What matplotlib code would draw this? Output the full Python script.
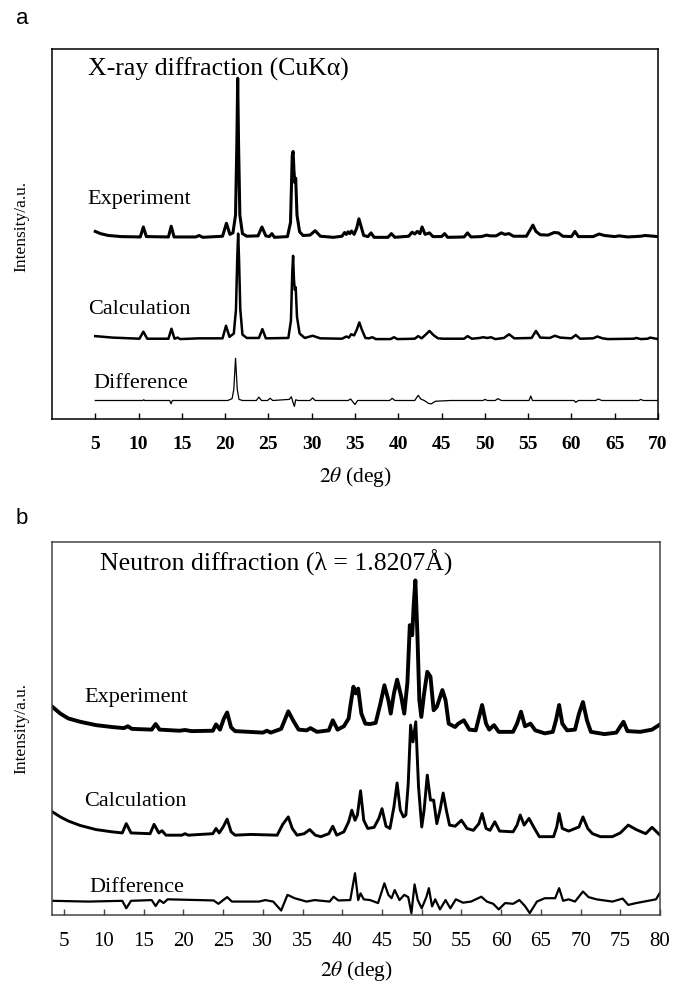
import matplotlib.pyplot as plt
import numpy as np

plt.rcParams['font.family'] = ['Liberation Serif', 'DejaVu Serif']
plt.rcParams['mathtext.fontset'] = 'stix'

# traced patterns: (2theta, intensity above the curve's own baseline, a.u.)
xrd_experiment = [
    (5.0, 1.6), (5.6, 1.0), (6.5, 0.5), (8.0, 0.2), (10.2, 0.1), (10.55, 2.8), (10.9, 0.2),
    (13.45, 0.1), (13.77, 3.0), (14.1, 0.1), (16.6, 0.1), (17.0, 0.5), (17.4, 0.0),
    (19.7, 0.3), (20.15, 3.8), (20.55, 0.8), (20.9, 1.2), (21.2, 6.0), (21.35, 25.0),
    (21.45, 43.0), (21.55, 25.0), (21.7, 6.0), (22.0, 1.0), (22.5, 0.3), (23.8, 0.4),
    (24.25, 2.8), (24.7, 0.4), (25.1, 0.2), (25.4, 1.0), (25.7, 0.0), (27.2, 0.2),
    (27.55, 4.0), (27.75, 22.0), (27.85, 23.2), (27.95, 18.0), (28.05, 14.8), (28.15, 16.0),
    (28.3, 6.0), (28.6, 1.5), (29.0, 0.5), (29.8, 0.6), (30.4, 1.8), (31.0, 0.3), (32.5, 0.0),
    (33.5, 0.3), (33.8, 1.3), (34.0, 0.8), (34.2, 1.5), (34.4, 1.0), (34.6, 1.7), (34.9, 0.8),
    (35.2, 2.5), (35.45, 5.0), (35.7, 3.0), (36.0, 0.5), (36.5, 0.2), (36.85, 1.2), (37.2, 0.0),
    (38.8, 0.0), (39.2, 1.0), (39.6, 0.0), (41.2, 0.3), (41.6, 1.4), (41.9, 0.9), (42.2, 1.6),
    (42.5, 1.0), (42.75, 2.8), (43.1, 0.8), (43.6, 1.2), (44.0, 0.2), (45.0, 0.2), (45.35, 1.0),
    (45.7, 0.0), (47.6, 0.1), (48.0, 1.2), (48.4, 0.1), (49.6, 0.2), (50.2, 0.6), (50.6, 0.4),
    (51.3, 0.4), (51.9, 1.2), (52.3, 0.8), (52.8, 1.0), (53.3, 0.3), (54.8, 0.3), (55.55, 3.3),
    (55.9, 1.6), (56.4, 0.7), (57.3, 0.6), (58.0, 1.3), (58.5, 1.2), (59.0, 0.3), (60.0, 0.2),
    (60.4, 1.6), (60.8, 0.2), (62.5, 0.2), (63.2, 0.9), (63.8, 0.5), (65.0, 0.2), (65.5, 0.4),
    (66.5, 0.1), (68.0, 0.3), (68.5, 0.5), (70.0, 0.2),
]
xrd_calculation = [
    (5.0, 0.8), (7.0, 0.4), (10.1, 0.1), (10.55, 2.0), (11.0, 0.1), (13.45, 0.1), (13.8, 2.8),
    (14.15, 0.1), (14.5, 0.4), (14.8, 0.0), (17.0, 0.2), (19.7, 0.2), (20.1, 3.6), (20.5, 0.6),
    (21.0, 1.5), (21.25, 8.0), (21.4, 22.0), (21.5, 28.5), (21.6, 22.0), (21.75, 8.0),
    (22.0, 1.2), (22.5, 0.3), (23.9, 0.3), (24.3, 2.7), (24.7, 0.2), (27.3, 0.3), (27.6, 5.0),
    (27.75, 18.0), (27.85, 22.5), (27.95, 16.0), (28.05, 13.3), (28.15, 14.0), (28.3, 6.0),
    (28.6, 1.5), (29.2, 0.3), (30.1, 0.9), (31.0, 0.2), (33.5, 0.1), (34.0, 0.7), (34.3, 0.4),
    (34.55, 1.3), (34.9, 1.0), (35.2, 2.5), (35.5, 4.5), (35.8, 2.5), (36.2, 0.3), (36.6, 0.2),
    (37.0, 0.5), (37.4, 0.0), (39.1, 0.0), (39.5, 0.5), (39.9, 0.0), (41.9, 0.1), (42.3, 0.8),
    (42.7, 0.2), (43.3, 1.5), (43.6, 2.2), (44.1, 1.0), (44.6, 0.2), (45.2, 0.1), (47.6, 0.1),
    (48.0, 0.8), (48.5, 0.1), (49.4, 0.3), (49.8, 0.5), (50.3, 0.3), (50.7, 0.5), (51.2, 0.0),
    (52.2, 0.3), (52.8, 1.3), (53.4, 0.2), (55.4, 0.3), (55.9, 2.2), (56.4, 0.4), (57.5, 0.3),
    (58.1, 0.9), (58.7, 0.4), (60.0, 0.2), (60.5, 1.1), (61.0, 0.1), (62.5, 0.2), (63.0, 0.7),
    (63.6, 0.2), (64.2, 0.0), (67.2, 0.1), (67.5, 0.3), (68.0, 0.0), (68.8, 0.1), (69.1, 0.4),
    (70.0, 0.0),
]
xrd_difference = [
    (5.0, 0.0), (10.5, 0.0), (10.6, 0.2), (10.7, 0.0), (13.6, 0.0), (13.75, -0.9), (13.9, 0.0),
    (20.3, 0.0), (20.8, 0.5), (21.0, 3.0), (21.2, 11.4), (21.4, 3.0), (21.6, 0.3), (22.0, 0.0),
    (23.6, 0.0), (23.9, 0.9), (24.2, 0.0), (24.9, 0.0), (25.2, 0.6), (25.5, 0.0), (27.4, 0.3),
    (27.65, 1.0), (27.85, -0.6), (28.0, -1.6), (28.15, 0.2), (28.4, 0.0), (29.8, 0.0),
    (30.1, 0.7), (30.4, 0.0), (34.2, 0.0), (34.5, 0.4), (34.8, -0.5), (35.0, -1.1), (35.3, 0.0),
    (39.0, 0.0), (39.3, 0.6), (39.6, 0.0), (41.9, 0.0), (42.3, 1.4), (42.6, 0.4), (43.0, 0.0),
    (43.5, -0.8), (43.8, -0.9), (44.3, -0.2), (46.0, 0.0), (49.8, 0.0), (50.0, 0.3), (50.3, 0.0),
    (51.2, 0.0), (51.5, 0.5), (51.9, 0.0), (55.1, 0.0), (55.3, 1.2), (55.5, 0.0), (60.3, 0.0),
    (60.5, -0.5), (60.8, 0.0), (62.8, 0.0), (63.1, 0.4), (63.5, 0.0), (67.8, 0.0), (68.0, 0.3),
    (68.3, 0.0), (70.0, 0.0),
]

nd_experiment = [
    (3.5, 6.7), (4.5, 4.9), (5.5, 3.6), (7.0, 2.7), (9.0, 1.8), (11.0, 1.3), (12.5, 1.0),
    (13.0, 1.5), (13.5, 0.8), (16.0, 0.6), (16.5, 2.1), (17.0, 0.6), (19.5, 0.3), (20.2, 0.5),
    (21.0, 0.2), (23.7, 0.3), (24.1, 2.0), (24.6, 0.6), (25.1, 3.6), (25.5, 5.2), (26.0, 1.2),
    (26.5, 0.2), (30.0, -0.2), (30.5, 0.3), (31.0, -0.2), (32.3, 0.8), (32.8, 3.4), (33.2, 5.5),
    (33.8, 3.1), (34.5, 0.6), (35.5, 0.4), (36.0, 1.0), (36.8, 0.0), (38.3, 0.4), (38.8, 3.1),
    (39.4, 0.6), (40.2, 1.5), (40.8, 3.6), (41.0, 6.7), (41.4, 12.1), (41.7, 10.3), (42.0, 11.6),
    (42.4, 4.9), (42.9, 2.2), (43.5, 2.1), (44.2, 2.4), (44.8, 7.6), (45.3, 12.5), (45.8, 8.5),
    (46.1, 4.9), (46.5, 10.3), (46.9, 14.0), (47.4, 9.6), (47.8, 4.9), (48.2, 13.3),
    (48.5, 28.6), (48.8, 25.9), (49.0, 34.4), (49.2, 40.6), (49.45, 26.4), (49.7, 8.5),
    (49.95, 4.0), (50.3, 10.3), (50.7, 16.1), (51.1, 14.8), (51.5, 5.8), (51.9, 6.7),
    (52.6, 11.2), (53.0, 8.5), (53.4, 2.2), (54.2, 1.3), (54.6, 2.2), (55.3, 3.1), (56.0, 0.6),
    (56.8, 0.4), (57.6, 7.2), (58.1, 2.2), (58.5, 0.6), (59.1, 1.8), (59.7, 0.0), (61.5, 0.0),
    (62.0, 2.2), (62.5, 5.4), (63.0, 1.5), (63.7, 2.2), (64.3, 0.4), (65.5, -0.4), (66.5, 0.0),
    (66.9, 3.1), (67.3, 7.2), (67.7, 2.2), (68.3, 0.4), (69.3, 0.6), (69.8, 4.9), (70.3, 8.0),
    (70.8, 3.1), (71.3, 0.0), (73.0, -0.6), (74.5, -0.2), (75.4, 2.7), (75.9, 0.2), (77.5, 0.0),
    (79.0, 0.6), (80.0, 2.0),
]
nd_calculation = [
    (3.5, 6.25), (4.5, 4.9), (5.5, 3.8), (7.0, 2.6), (9.0, 1.5), (11.0, 0.9), (12.3, 0.6),
    (12.8, 3.1), (13.4, 0.6), (15.8, 0.4), (16.3, 2.9), (16.9, 0.6), (17.3, 1.2), (17.8, 0.0),
    (19.8, 0.0), (20.2, 0.4), (20.6, 0.0), (23.7, 0.4), (24.1, 1.8), (24.5, 0.6), (25.0, 2.2),
    (25.5, 4.3), (26.0, 0.9), (26.5, 0.0), (28.5, 0.2), (31.8, 0.0), (32.5, 2.9), (33.2, 4.9),
    (33.7, 1.8), (34.3, 0.0), (35.2, 0.4), (35.9, 1.5), (36.6, 0.0), (37.3, -0.4), (38.3, 0.4),
    (38.8, 2.4), (39.3, 0.0), (40.2, 0.9), (40.8, 3.6), (41.2, 6.7), (41.6, 4.0), (41.9, 5.4),
    (42.3, 11.9), (42.7, 4.0), (43.2, 1.8), (44.0, 2.1), (44.6, 4.5), (45.0, 7.1), (45.5, 2.4),
    (46.0, 1.8), (46.5, 7.6), (46.9, 14.0), (47.3, 6.7), (47.7, 4.9), (48.0, 5.4), (48.3, 13.8),
    (48.6, 29.5), (48.9, 25.0), (49.25, 30.4), (49.6, 12.9), (50.0, 2.2), (50.3, 6.7),
    (50.7, 16.1), (51.1, 9.4), (51.5, 9.4), (51.9, 3.1), (52.3, 6.7), (52.7, 11.3), (53.1, 6.7),
    (53.5, 2.7), (54.2, 2.4), (55.0, 4.0), (55.7, 1.8), (56.5, 1.3), (57.2, 3.1), (57.6, 5.8),
    (58.1, 1.8), (58.6, 1.3), (59.2, 3.6), (59.8, 1.1), (61.5, 0.9), (62.0, 2.7), (62.4, 5.4),
    (62.9, 2.7), (63.5, 4.5), (64.2, 1.8), (64.8, -0.4), (66.6, -0.4), (67.0, 2.2), (67.3, 5.8),
    (67.7, 1.8), (68.5, 1.1), (69.8, 2.2), (70.3, 4.9), (70.9, 1.8), (71.5, 0.4), (72.5, -0.4),
    (74.0, -0.4), (75.0, 0.6), (76.0, 2.7), (77.0, 1.5), (78.2, 0.4), (79.0, 2.1), (80.0, 0.0),
]
nd_difference = [
    (3.5, 0.2), (8.0, 0.0), (12.3, 0.2), (12.8, -1.8), (13.4, 0.2), (16.0, 0.4), (16.5, -1.2),
    (17.0, 0.4), (17.5, -0.4), (18.0, 0.6), (23.8, 0.3), (24.4, -0.6), (25.5, 1.2), (26.1, 0.0),
    (29.5, 0.0), (30.3, 0.4), (31.3, 0.0), (32.3, -2.4), (33.1, 1.8), (34.0, 0.9), (35.5, 0.0),
    (36.5, 0.4), (38.4, 0.0), (38.9, 1.3), (39.5, 0.3), (41.0, 0.4), (41.6, 7.6), (42.0, 0.4),
    (42.3, 2.2), (42.7, 0.6), (43.5, 0.4), (44.5, -0.4), (45.3, 4.9), (45.8, 1.8), (46.2, 0.9),
    (46.6, 3.1), (47.2, 0.4), (47.8, 1.8), (48.3, 1.2), (48.7, -3.1), (49.1, 4.6), (49.5, 0.4),
    (50.0, -1.8), (50.6, 1.3), (50.9, 3.6), (51.3, -1.3), (51.7, 0.6), (52.3, -2.1), (53.0, 0.4),
    (53.6, -1.8), (54.3, 0.6), (55.2, -0.3), (56.2, 0.0), (57.5, 1.3), (58.2, 0.0), (59.0, -0.6),
    (59.7, -2.1), (60.5, -0.4), (61.5, -0.6), (62.3, 0.4), (63.0, -1.2), (63.6, -3.1),
    (64.5, 0.0), (65.5, 0.9), (66.8, 0.9), (67.3, 3.6), (67.8, 0.2), (68.5, 0.6), (69.3, 0.0),
    (70.3, 2.7), (71.0, 1.2), (72.0, 0.6), (74.0, 0.0), (75.3, 0.8), (76.0, -0.9), (77.0, -0.4),
    (78.5, 0.2), (79.5, 0.6), (80.0, 2.4),
]

curve_names = ["Experiment", "Calculation", "Difference"]
xrd_ticks = list(range(5, 71, 5))
nd_ticks = list(range(5, 81, 5))


def draw_panel(ax, curves, offsets, widths, label_pos, title, title_pos, xlim, ticks,
               tick_kw, spine_color):
    for pts, off, lw in zip(curves, offsets, widths):
        x, y = np.array(pts).T
        ax.plot(x, y + off, color='black', lw=lw, solid_joinstyle='round')
    for name, (lx, ly) in zip(curve_names, label_pos):
        ax.text(lx, ly, name, transform=ax.transAxes, fontsize=16, va='center', ha='left')
    ax.text(title_pos[0], title_pos[1], title, transform=ax.transAxes,
            fontsize=18.5, va='center', ha='left')
    ax.set_xlim(*xlim)
    ax.set_ylim(0, 100)
    ax.set_yticks([])
    ax.set_xticks(ticks)
    ax.set_xticklabels([str(t) for t in ticks], **tick_kw)
    ax.tick_params(axis='x', direction='in', length=4, width=1, pad=12, colors=spine_color,
                   labelcolor='black')
    for s in ax.spines.values():
        s.set_linewidth(1.1)
        s.set_color(spine_color)
    ax.set_xlabel(r'$\mathit{2}\theta$ (deg)', fontsize=15.5, va='center')
    ax.set_ylabel('Intensity/a.u.', fontsize=12.5)
    ax.yaxis.set_label_coords(-0.038, 0.5)


fig = plt.figure(figsize=(6.74, 9.84), dpi=100)
ax_a = fig.add_axes([52 / 674, 1 - 419 / 984, 606 / 674, 370 / 984])
ax_b = fig.add_axes([52 / 674, 1 - 915 / 984, 608 / 674, 373 / 984])

draw_panel(ax_a, [xrd_experiment, xrd_calculation, xrd_difference],
           [49.1, 21.6, 5.0], [2.2, 1.8, 0.9],
           [(0.059, 0.592), (0.059, 0.295), (0.068, 0.095)],
           'X-ray diffraction (CuKα)', (0.059, 0.946),
           (0, 70), xrd_ticks, dict(fontsize=14, fontweight='bold'), 'black')
ax_a.xaxis.set_label_coords(0.5, -58 / 370)
ax_a.yaxis.set_label_coords(-0.038, 0.52)

draw_panel(ax_b, [nd_experiment, nd_calculation, nd_difference],
           [49.1, 21.4, 3.6], [2.8, 2.1, 1.6],
           [(0.0535, 0.584), (0.0535, 0.303), (0.062, 0.075)],
           'Neutron diffraction (λ = 1.8207Å)', (0.079, 0.944),
           (3.45, 80), nd_ticks, dict(fontsize=15), '#444444')
ax_b.xaxis.set_label_coords(0.5, -56 / 373)

fig.text(22 / 674, 1 - 19 / 984, 'a', family=['Liberation Sans', 'DejaVu Sans'],
         fontsize=16, ha='center', va='center')
fig.text(22 / 674, 1 - 518 / 984, 'b', family=['Liberation Sans', 'DejaVu Sans'],
         fontsize=16, ha='center', va='center')

fig.savefig('out.png', dpi=100)
